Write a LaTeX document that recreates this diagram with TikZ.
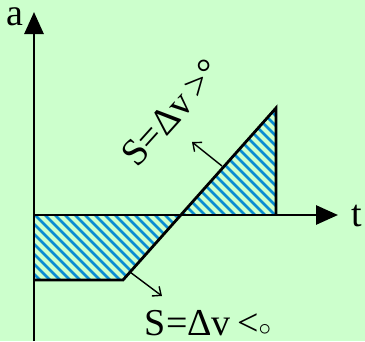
\documentclass[tikz,border=0pt]{standalone}
\usepackage{fontspec}
\setmainfont{Liberation Serif}
\usetikzlibrary{arrows.meta}
\definecolor{bg}{RGB}{204,255,204}
\definecolor{hatchc}{RGB}{10,140,210}
\begin{document}
\begin{tikzpicture}[x=1pt,y=-1pt,
  axis/.style={line width=2.8pt,-{Triangle[length=22pt,width=19pt]}},
  outline/.style={line width=2.8pt,line join=miter},
  hatchline/.style={hatchc,line width=2.6pt},
  pointer/.style={line width=1.4pt,-{Straight Barb[length=7pt,width=12pt,line width=1.4pt]}},
  lbl/.style={inner sep=0pt,font=\fontsize{38}{38}\selectfont}]
\fill[bg] (0,0) rectangle (365,341);
\useasboundingbox (0,0) rectangle (365,341);
% key points
\coordinate (O) at (34,215);
\coordinate (ytop) at (34,12);
\coordinate (ybot) at (34,341);
\coordinate (tend) at (338,215);
\coordinate (A) at (34,280);
\coordinate (B) at (123,280);
\coordinate (C) at (180,215);
\coordinate (D) at (276,108);
\coordinate (E) at (276,215);
% hatching
\begin{scope}
  \clip (O) -- (C) -- (B) -- (A) -- cycle;
  \foreach \i in {-300,-290,...,300} \draw[hatchline] (\i,150) -- ++(200,200);
\end{scope}
\begin{scope}
  \clip (C) -- (D) -- (E) -- cycle;
  \foreach \i in {-100,-90,...,400} \draw[hatchline] (\i,50) -- ++(220,220);
\end{scope}
% outlines
\draw[outline] (A) -- (B) -- (D) -- (E);
\draw[axis] (ybot) -- (ytop);
\draw[axis] (O) -- (tend);
% pointers
\coordinate (p1) at (222,166);
\coordinate (q1) at (192,142);
\coordinate (p2) at (130,272);
\coordinate (q2) at (162,296);
\draw[pointer] (p1) -- (q1);
\draw[pointer] (p2) -- (q2);
% labels
\node[lbl,anchor=base,text height=17pt] (la) at (15,25) {a};
\node[lbl,anchor=base] (lt) at (357,226) {t};
\node[lbl,rotate=48,anchor=base] (lup) at (181,121) {S=Δv\,>°};
\node[lbl,anchor=base,text depth=0pt] (ldown) at (208,335) {S=Δv\,<$\circ$};
\end{tikzpicture}
\end{document}
